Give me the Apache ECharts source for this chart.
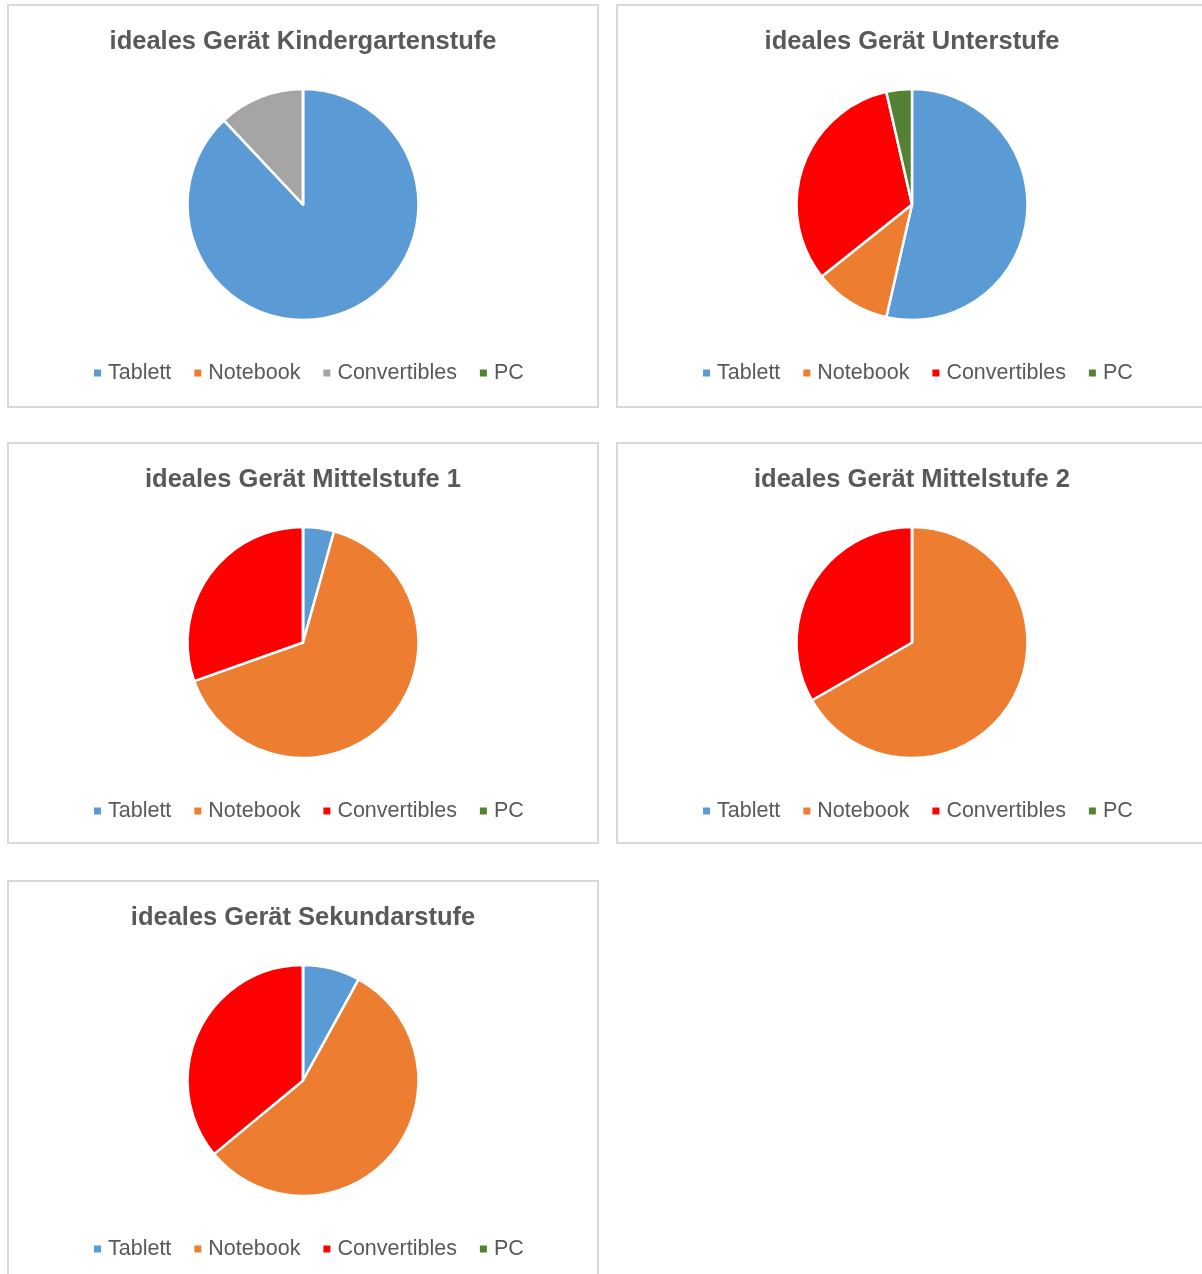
<!DOCTYPE html>
<html>
<head>
<meta charset="utf-8">
<script src="https://cdn.jsdelivr.net/npm/echarts@6/dist/echarts.min.js"></script>
<style>
  html, body { margin: 0; padding: 0; background: #ffffff; width: 1202px; height: 1274px; overflow: hidden; }
  .panel { position: absolute; box-sizing: border-box; border: 2px solid #D9D9D9; background: #fff; }
  .chart { width: 100%; height: 100%; }
</style>
</head>
<body>
<div id="p0" class="panel" style="left:7px; top:4px; width:592px; height:404px;"><div class="chart" id="c0"></div></div>
<div id="p1" class="panel" style="left:616px; top:4px; width:592px; height:404px;"><div class="chart" id="c1"></div></div>
<div id="p2" class="panel" style="left:7px; top:442px; width:592px; height:402px;"><div class="chart" id="c2"></div></div>
<div id="p3" class="panel" style="left:616px; top:442px; width:592px; height:402px;"><div class="chart" id="c3"></div></div>
<div id="p4" class="panel" style="left:7px; top:880px; width:592px; height:404px;"><div class="chart" id="c4"></div></div>
<script>
// Categories (legend entries)
const categories = ["Tablett", "Notebook", "Convertibles", "PC"];

// Chart titles
const titles = [
  "ideales Gerät Kindergartenstufe",
  "ideales Gerät Unterstufe",
  "ideales Gerät Mittelstufe 1",
  "ideales Gerät Mittelstufe 2",
  "ideales Gerät Sekundarstufe"
];

// Values per chart (Tablett, Notebook, Convertibles, PC)
const kindergarten = [88, 0, 12, 0];
const unterstufe   = [15, 3, 9, 1];
const mittelstufe1 = [1, 15, 7, 0];
const mittelstufe2 = [0, 8, 4, 0];
const sekundarstufe = [2, 14, 9, 0];

const seriesValues = [kindergarten, unterstufe, mittelstufe1, mittelstufe2, sekundarstufe];

// Colours
const paletteDefault = ["#5B9BD5", "#ED7D31", "#FF0000", "#548235"];
const paletteKinder  = ["#5B9BD5", "#ED7D31", "#A5A5A5", "#548235"];
const palettes = [paletteKinder, paletteDefault, paletteDefault, paletteDefault, paletteDefault];

const FONT = '"Liberation Sans", Arial, Helvetica, sans-serif';

seriesValues.forEach(function (vals, i) {
  const chart = echarts.init(document.getElementById('c' + i), null, { renderer: 'canvas' });
  const data = categories.map(function (name, k) {
    return { name: name, value: vals[k], itemStyle: { color: palettes[i][k] } };
  });
  chart.setOption({
    animation: false,
    color: palettes[i],
    title: {
      text: titles[i],
      left: 'center',
      top: 23,
      padding: 0,
      textStyle: { fontFamily: FONT, fontSize: 25.5, fontWeight: 'bold', color: '#595959' }
    },
    legend: {
      data: categories,
      left: 85,
      top: 356,
      padding: 0,
      icon: 'rect',
      itemWidth: 7,
      itemHeight: 7,
      itemGap: 23,
      selectedMode: false,
      itemStyle: { borderWidth: 0 },
      textStyle: { fontFamily: FONT, fontSize: 21.5, color: '#595959', padding: [0, 0, 0, 2] }
    },
    series: [{
      type: 'pie',
      center: [294, 198.5],
      radius: [0, 115.5],
      startAngle: 90,
      clockwise: true,
      avoidLabelOverlap: false,
      label: { show: false },
      labelLine: { show: false },
      emphasis: { disabled: true },
      itemStyle: { borderColor: '#ffffff', borderWidth: 2.5 },
      data: data
    }]
  });
});
</script>
</body>
</html>
